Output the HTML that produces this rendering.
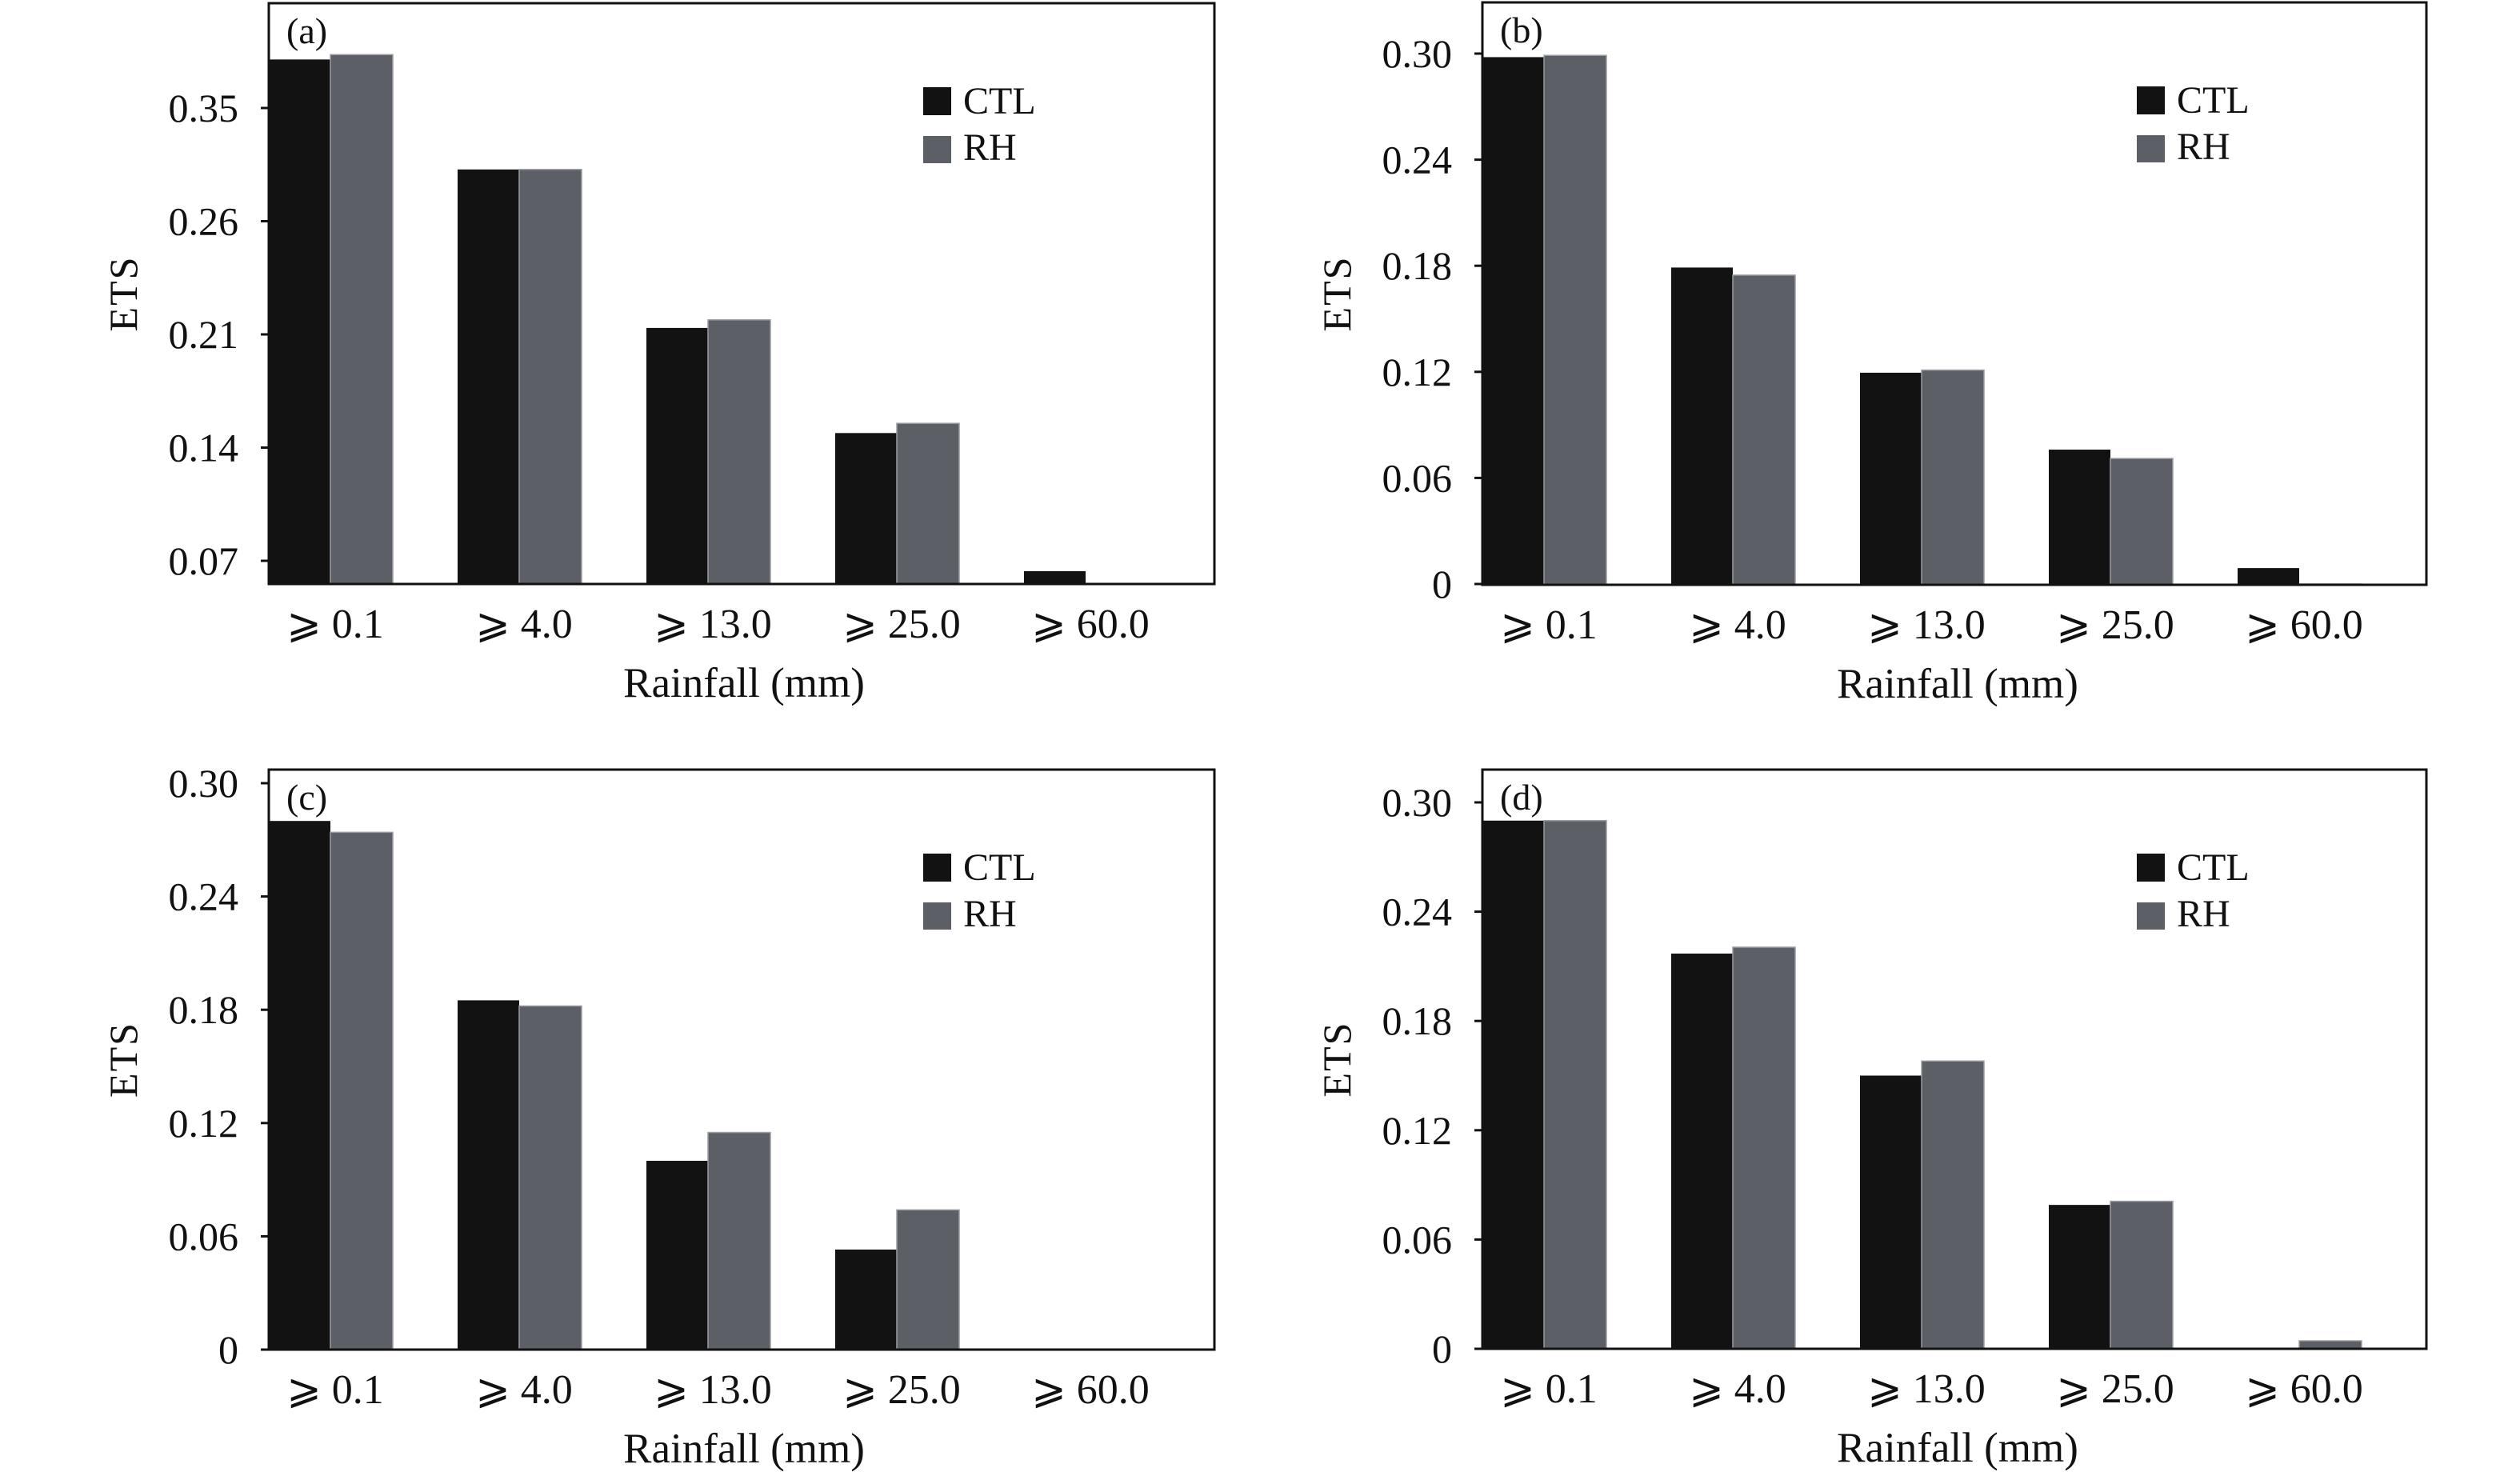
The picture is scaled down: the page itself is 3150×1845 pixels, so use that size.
<!DOCTYPE html>
<html><head><meta charset="utf-8"><style>
html,body{margin:0;padding:0;background:#fff;}
svg{display:block;}
text{font-family:"Liberation Serif","DejaVu Serif",serif;fill:#111;}
</style></head><body>
<svg id="fig" width="3150" height="1845" viewBox="0 0 3150 1845" xmlns="http://www.w3.org/2000/svg"></svg>
<script>
const categories = ["⩾ 0.1","⩾ 4.0","⩾ 13.0","⩾ 25.0","⩾ 60.0"];
const ctlA = [0.380,0.312,0.214,0.149,0.0636];
const rhA  = [0.383,0.312,0.219,0.155,0];
const ctlB = [0.298,0.179,0.1195,0.076,0.009];
const rhB  = [0.299,0.1747,0.121,0.071,0];
const ctlC = [0.280,0.185,0.100,0.053,0];
const rhC  = [0.274,0.182,0.115,0.074,0];
const ctlD = [0.290,0.217,0.150,0.079,0];
const rhD  = [0.290,0.2205,0.158,0.081,0.0044];
const ticksA = [0.07,0.14,0.21,0.28,0.35];
const tickLabelsA = ["0.07","0.14","0.21","0.26","0.35"];
const ticksStd = [0,0.06,0.12,0.18,0.24,0.30];
const tickLabelsStd = ["0","0.06","0.12","0.18","0.24","0.30"];

const NS="http://www.w3.org/2000/svg";
const svg=document.getElementById('fig');
function mk(tag,attrs,parent){const e=document.createElementNS(NS,tag);for(const k in attrs)e.setAttribute(k,attrs[k]);(parent||svg).appendChild(e);return e;}

const panels=[
 {id:'a',L:336,R:1518,T:4,B:730,v0:0.07,y0:701,k:141.5/0.07,ctl:ctlA,rh:rhA,ticks:ticksA,labels:tickLabelsA},
 {id:'b',L:1853,R:3033,T:3,B:731,v0:0,y0:730,k:663/0.3,ctl:ctlB,rh:rhB,ticks:ticksStd,labels:tickLabelsStd},
 {id:'c',L:336,R:1518,T:962,B:1687,v0:0,y0:1687,k:708/0.3,ctl:ctlC,rh:rhC,ticks:ticksStd,labels:tickLabelsStd},
 {id:'d',L:1853,R:3033,T:962,B:1686,v0:0,y0:1686,k:683/0.3,ctl:ctlD,rh:rhD,ticks:ticksStd,labels:tickLabelsStd}
];

panels.forEach(p=>{
  const g=mk('g',{});
  
  
  const y=v=>p.y0-(v-p.v0)*p.k;
  const xg=i=>p.L+236*i;
  p.ctl.forEach((v,i)=>{
    const top=Math.min(y(v),p.B);
    const r=mk('rect',{x:xg(i),y:top,width:77,height:p.B-top,fill:'#121212'},g);
    
    
  });
  p.rh.forEach((v,i)=>{
    const top=Math.min(y(v),p.B);
    const r=mk('rect',{x:xg(i)+77,y:top,width:78,height:p.B-top,fill:'#5c6066',stroke:'#9a9da1','stroke-width':1.5},g);
    
    
  });
  const f=mk('rect',{x:p.L,y:p.T,width:p.R-p.L,height:p.B-p.T,fill:'none',stroke:'#111','stroke-width':3},g);
  
  
  p.ticks.forEach((v,i)=>{
    const ty=y(v);
    const t=mk('line',{x1:p.L-10,x2:p.L,y1:ty,y2:ty,stroke:'#111','stroke-width':3},g);
    
    
    const tl=mk('text',{x:p.L-38,y:ty+17,'text-anchor':'end','font-size':50},g);
    tl.textContent=p.labels[i];
    
    
  });
  categories.forEach((c,i)=>{
    const t=mk('text',{x:xg(i)+83,y:p.B+67,'text-anchor':'middle','font-size':52},g);
    t.textContent=c;
    
    
  });
  const xt=mk('text',{x:p.L+594,y:p.B+141,'text-anchor':'middle','font-size':53},g);
  xt.textContent='Rainfall (mm)';
  
  
  const cy=(p.T+p.B)/2;
  const yt=mk('text',{x:p.L-165,y:cy,'text-anchor':'middle','font-size':50,'letter-spacing':2,transform:`rotate(-90 ${p.L-165} ${cy})`},g);
  yt.textContent='ETS';
  
  
  const pl=mk('text',{x:p.L+22,y:p.T+50,'font-size':46},g);
  pl.textContent='('+p.id+')';
  
  
  const lg=mk('g',{},g);
  
  
  const s1=mk('rect',{x:p.L+818,y:p.T+105,width:35,height:35,fill:'#121212'},lg);
  
  
  const t1=mk('text',{x:p.L+868,y:p.T+138,'font-size':48},lg);
  t1.textContent='CTL';
  
  
  const s2=mk('rect',{x:p.L+818,y:p.T+166,width:35,height:34,fill:'#5c6066'},lg);
  
  
  const t2=mk('text',{x:p.L+868,y:p.T+196,'font-size':48},lg);
  t2.textContent='RH';
  
  
});
</script>
</body></html>
